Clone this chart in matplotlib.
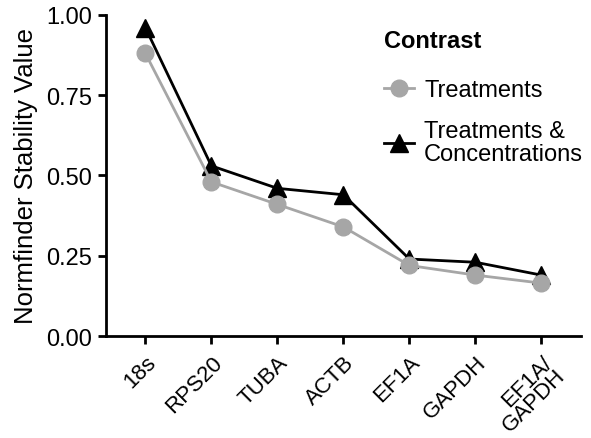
import matplotlib
matplotlib.use("Agg")
import matplotlib.pyplot as plt
from matplotlib.lines import Line2D

plt.rcParams['font.family'] = ['Liberation Sans', 'DejaVu Sans']

genes = ["18s", "RPS20", "TUBA", "ACTB", "EF1A", "GAPDH", "EF1A/\nGAPDH"]
treatments = [0.88, 0.48, 0.41, 0.34, 0.22, 0.19, 0.165]
treat_conc = [0.96, 0.53, 0.46, 0.44, 0.24, 0.23, 0.19]
yticks = [0.00, 0.25, 0.50, 0.75, 1.00]

fig = plt.figure(figsize=(5.91, 4.39), dpi=100)
ax = fig.add_axes([0.179, 0.232, 0.804, 0.732])

x = list(range(len(genes)))
gray = "#a6a6a6"
ax.plot(x, treat_conc, color="black", lw=2, marker="^", ms=13,
        markeredgecolor="black", zorder=3, label="Treatments &\nConcentrations")
ax.plot(x, treatments, color=gray, lw=2, marker="o", ms=12,
        markeredgecolor=gray, zorder=4, label="Treatments")

ax.set_xlim(-0.6, len(genes) - 0.4)
ax.set_ylim(0, 1.0)
ax.set_yticks(yticks)
ax.set_yticklabels([f"{v:.2f}" for v in yticks], fontsize=17)
ax.set_xticks(x)
ax.set_xticklabels(genes, fontsize=16, rotation=45, ha="right",
                   rotation_mode="anchor", linespacing=0.9)
ax.tick_params(axis="both", direction="out", length=6, width=2, color="black")
ax.tick_params(axis="x", pad=5)
ax.tick_params(axis="y", pad=4)
ax.set_ylabel("Normfinder Stability Value", fontsize=18.5, labelpad=6)
for s in ["top", "right"]:
    ax.spines[s].set_visible(False)
for s in ["left", "bottom"]:
    ax.spines[s].set_linewidth(2)

handles = [Line2D([], [], color=gray, lw=2, marker="o", ms=12, markeredgecolor=gray),
           Line2D([], [], color="black", lw=2, marker="^", ms=13)]
fs = 17
leg = fig.legend(handles, ["Treatments", "Treatments &\nConcentrations"],
                 title="Contrast", loc="upper left",
                 bbox_to_anchor=(384 / 591, 1 - 30 / 439),
                 frameon=False, fontsize=fs, title_fontsize=fs,
                 handlelength=1.25, handletextpad=0.45, labelspacing=0.8,
                 borderpad=0.0, borderaxespad=0.0)
leg.get_title().set_fontweight("bold")
leg._legend_box.align = "left"
leg._legend_box.sep = 0.8 * fs + 6
for t in leg.get_texts():
    t.set_linespacing(1.05)

fig.savefig("out.png", dpi=100)
